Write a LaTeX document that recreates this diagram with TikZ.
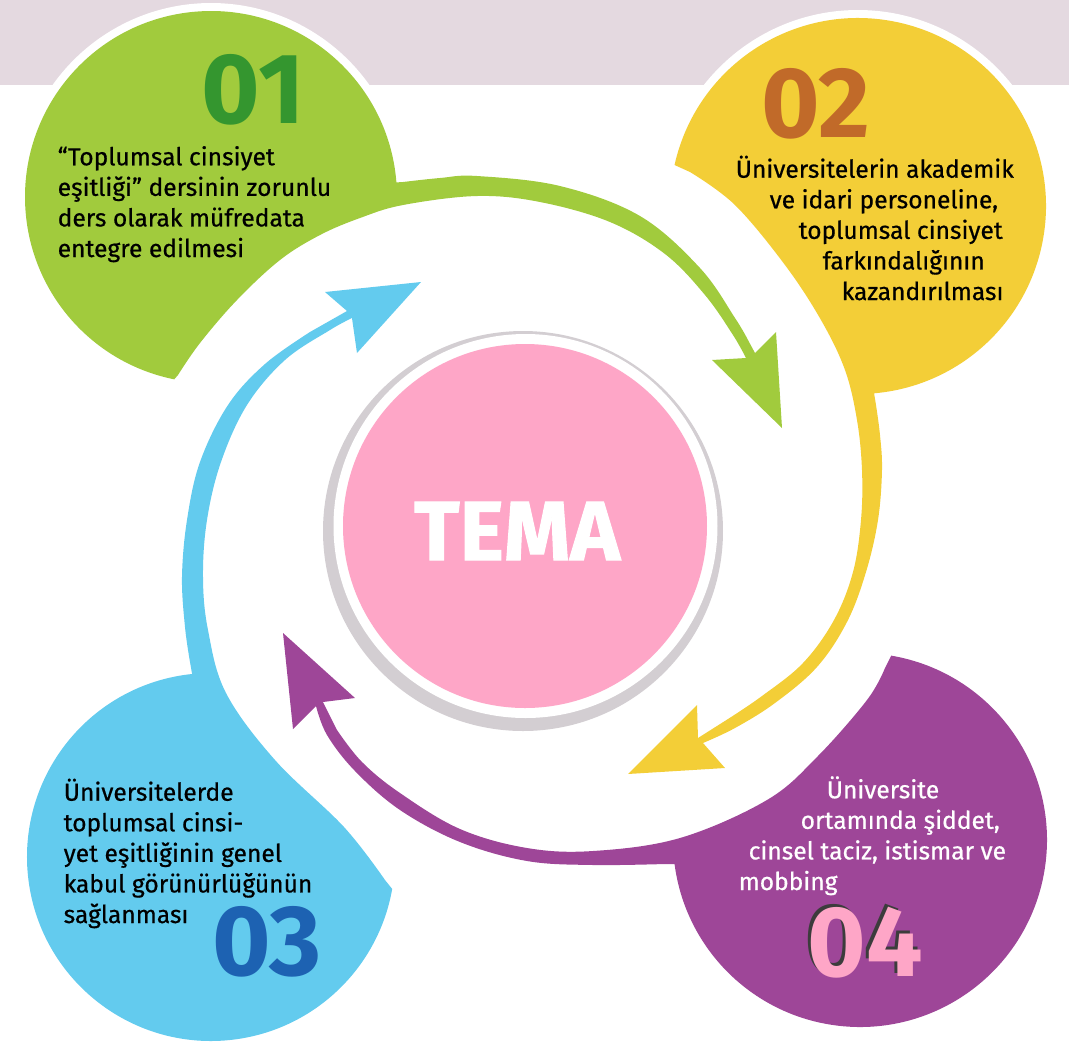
\documentclass[tikz,border=0pt]{standalone}
\usepackage{fontspec}
\setmainfont{Fira Sans}
\newfontfamily\bodyfont{Fira Sans}[FakeBold=0.6]
\newfontfamily\temafont{Fira Sans}[BoldFeatures={FakeBold=1.2}]
\usetikzlibrary{calc}
\definecolor{bandGrey}{HTML}{E4D9E0}
\definecolor{lime}{HTML}{A1CB3D}
\definecolor{limeDark}{HTML}{34962F}
\definecolor{sun}{HTML}{F3CE37}
\definecolor{sunDark}{HTML}{C16A29}
\definecolor{sky}{HTML}{63CBEE}
\definecolor{skyDark}{HTML}{1D62B2}
\definecolor{plum}{HTML}{9E4698}
\definecolor{pinkC}{HTML}{FEA6C7}
\definecolor{ringGrey}{HTML}{D3CED2}
\definecolor{numShade}{HTML}{3C3C3C}
\tikzset{
  txt/.style ={align=left, anchor=base west, inner sep=0pt, font=\bodyfont\fontsize{7}{8.7}\selectfont},
  num/.style ={inner sep=0pt, font=\fontsize{28.5}{28.5}\selectfont\bfseries},
  edge/.style={smooth, tension=0.6},
}

\begin{document}
\begin{tikzpicture}[x=0.1mm, y=-0.1mm]
  \useasboundingbox (0,0) rectangle (1069,1043);
  \fill[bandGrey] (0,0) rectangle (1069,85);

  \coordinate (c1) at (211,197);
  \coordinate (c2) at (858,206);
  \coordinate (c3) at (211,857);
  \coordinate (c4) at (860,840);
  \fill[white] (c1) circle[radius=194];
  \fill[white] (c2) circle[radius=196];

  % 01 -- green
  \fill[lime] (c1) ++(-4.5:186) arc[start angle=-4.5, end angle=-258.6, radius=186]
    -- plot[edge] coordinates {(178,375) (200,343) (237,300) (280,260) (320,235) (360,218) (403,205)
       (477,196) (540,202) (610,222) (665,254) (705,295) (733,335) (746,358)}
    -- (712,360) -- (782,428) -- (776,332) -- (755,353)
    -- plot[edge] coordinates {(748,340) (735,318) (700,268) (640,216) (560,186) (477,176)
       (440,178) (403,182)} -- cycle;

  % 02 -- yellow
  \fill[sun] (c2) ++(-167.4:188) arc[start angle=-167.4, end angle=85.1, radius=188]
    -- plot[edge] coordinates {(876,405) (880,435) (882,470) (878,520) (866,572) (847,622)
       (817,667) (775,703) (735,728) (703,743)}
    -- (725,768) -- (628,774) -- (697,705) -- (698,738)
    -- plot[edge] coordinates {(728,719) (762,696) (803,663) (834,620) (853,572) (861,520)
       (862,470) (857,420) (845,370) (821,320) (785,265) (735,205) (690,172)} -- cycle;

  % 03 -- blue
  \fill[sky] (c3) ++(-95.9:184) arc[start angle=-95.9, end angle=-350, radius=184]
    -- plot[edge] coordinates {(385,880) (344,827) (275,760) (226,693) (208,630) (203,577)
       (207,520) (221,462) (247,405) (285,360) (330,330) (352,318)}
    -- (357,353) -- (421,282) -- (325,292) -- (347,311)
    -- plot[edge] coordinates {(310,332) (265,364) (228,405) (200,462) (187,520) (182,577)
       (185,627) (190,662)} -- cycle;

  % 04 -- purple
  \fill[plum] (c4) ++(-80.4:187) arc[start angle=-80.4, end angle=172.6, radius=187]
    -- plot[edge] coordinates {(665,864) (593,865) (527,861) (460,842) (400,810) (355,771) (327,735) (316,706)}
    -- (293,729) -- (283,633) -- (355,698) -- (323,702)
    -- plot[edge] coordinates {(337,730) (362,762) (400,793) (460,829) (527,848) (593,851) (680,838)
       (767,800) (817,757) (867,700) (885,668)} -- cycle;

  % centre
  \fill[ringGrey] (523,531) circle[radius=200];
  \fill[white] (525.5,526) circle[radius=192];
  \fill[pinkC] (525,526) circle[radius=182];
  \node[inner sep=0pt, text=white, font=\temafont\bfseries\fontsize{24}{24}\selectfont] (tema) at (517,531) {TEMA};

  % numbers
  \node[num, text=limeDark] (n1) at (253,90)  {01};
  \node[num, text=sunDark]  (n2) at (816,104) {02};
  \node[num, text=skyDark]  (n3) at (267,942) {03};
  \node[num, text=numShade] (n4s) at (862,940) {04};
  \node[num, text=pinkC]    (n4) at (865,943) {04};

  % texts
  \node[txt] (t1) at (57,257) {“Toplumsal cinsiyet\\eşitliği” dersinin zorunlu\\ders olarak müfredata\\entegre edilmesi};
  \node[txt] (t2) at (735,300) {Üniversitelerin akademik\\\hspace*{3.4mm}ve idari personeline,\\\hspace*{6.3mm}toplumsal cinsiyet\\\hspace*{8.7mm}farkındalığının\\\hspace*{10.6mm}kazandırılması};
  \node[txt] (t3) at (63,923) {Üniversitelerde\\toplumsal cinsi-\\yet eşitliğinin genel\\kabul görünürlüğünün\\sağlanması};
  \node[txt, text=white] (t4) at (738,890) {\hspace*{8.8mm}Üniversite\\\hspace*{6.2mm}ortamında şiddet,\\\hspace*{1mm}cinsel taciz, istismar ve\\mobbing};
\end{tikzpicture}
\end{document}
